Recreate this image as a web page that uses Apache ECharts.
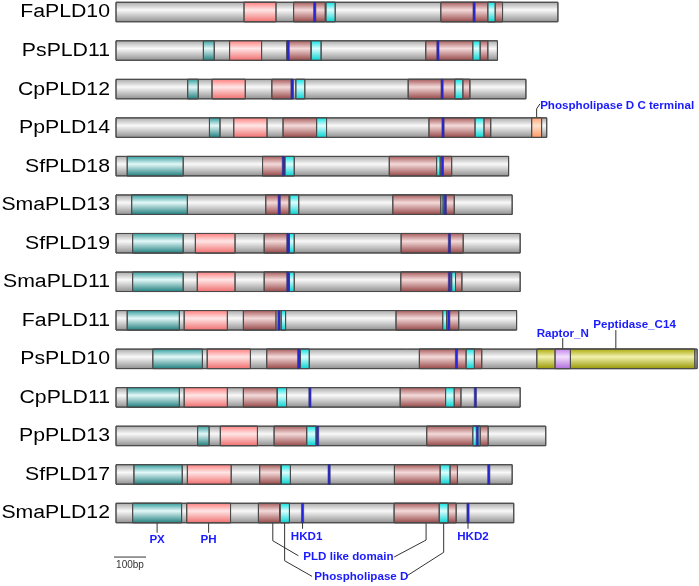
<!DOCTYPE html>
<html>
<head>
<meta charset="utf-8">
<script src="https://cdn.jsdelivr.net/npm/echarts@6/dist/echarts.min.js"></script>
<style>
  html, body {margin:0;padding:0;background:#ffffff;}
  #main {width:699px;height:586px;}
</style>
</head>
<body>
<div id="main"></div>
<script>
    // protein names, top to bottom
    var names = ['FaPLD10','PsPLD11','CpPLD12','PpPLD14','SfPLD18','SmaPLD13','SfPLD19',
                 'SmaPLD11','FaPLD11','PsPLD10','CpPLD11','PpPLD13','SfPLD17','SmaPLD12'];
    // protein lengths (aa)
    var lengths = [1381,1192,1281,1346,1227,1238,1263,1263,1252,1816,1263,1343,1238,1243];

    // domains: [row, start, end]
    var pxDomain = [[1,273,307],[2,224,257],[3,292,325],[4,35,210],[5,49,223],[6,52,210],[7,52,210],
                    [8,35,198],[9,115,270],[10,35,198],[11,255,291],[12,56,207],[13,52,205]];
    var phDomain = [[0,400,500],[1,355,455],[2,300,404],[3,368,472],[6,248,372],[7,254,372],
                    [8,213,348],[9,285,420],[10,213,348],[11,326,442],[12,223,360],[13,221,358]];
    var pldLike = [[0,555,654],[0,1015,1208],[1,534,610],[1,968,1162],[2,487,553],[2,913,1106],
                   [3,522,627],[3,978,1171],[4,458,526],[4,854,1049],[5,468,541],[5,865,1057],
                   [6,463,540],[6,891,1085],[7,463,540],[7,890,1081],[8,398,500],[8,875,1071],
                   [9,471,574],[9,948,1143],[10,398,504],[10,888,1078],[11,494,596],[11,971,1163],
                   [12,449,515],[12,870,1067],[13,445,511],[13,869,1063]];
    var pldD = [[0,656,685],[0,1162,1185],[1,610,641],[1,1115,1138],[2,562,590],[2,1059,1084],
                [3,627,658],[3,1122,1150],[4,528,557],[4,1002,1013],[5,543,571],[5,1015,1022],
                [6,542,557],[7,542,557],[7,1049,1061],[8,516,530],[8,1021,1033],[9,576,604],
                [9,1094,1120],[10,504,533],[10,1030,1057],[11,596,625],[11,1115,1138],
                [12,517,545],[12,1013,1044],[13,513,542],[13,1010,1038]];
    // HKD motifs: [row, centre]
    var hkd = [[0,621],[0,1119],[1,538],[1,1006],[2,550],[2,1019],[3,1022],[4,523],[4,1020],
               [5,510],[5,1029],[6,537],[6,1042],[7,537],[7,1042],[8,509],[8,1040],[9,571],[9,1064],
               [10,606],[10,1123],[11,630],[11,1129],[12,666],[12,1165],[13,583],[13,1100]];
    var pldC = [[3,1299,1330]];
    var peptidase = [[9,1315,1809]];
    var raptor = [[9,1372,1420]];

    var chart = echarts.init(document.getElementById('main'));

    function grad(a, b, c) {
        return new echarts.graphic.LinearGradient(0, 0, 0, 1, [
            {offset: 0, color: a}, {offset: 0.4, color: b}, {offset: 1, color: c}
        ]);
    }

    var BAR_H = 19.5;

    function boxSeries(data, fill, z) {
        return {
            type: 'custom',
            z: z,
            silent: true,
            data: data,
            encode: {x: [1, 2], y: 0},
            renderItem: function (params, api) {
                var r = api.value(0);
                var p0 = api.coord([api.value(1), r]);
                var p1 = api.coord([api.value(2), r]);
                return {
                    type: 'rect',
                    shape: {x: p0[0], y: p0[1] - BAR_H / 2, width: p1[0] - p0[0], height: BAR_H},
                    style: {fill: fill, stroke: '#4a4a4a', lineWidth: 1}
                };
            }
        };
    }

    var bars = lengths.map(function (v, i) { return [i, 0, v]; });

    var hkdSeries = {
        type: 'custom',
        z: 9,
        silent: true,
        data: hkd,
        encode: {x: 1, y: 0},
        renderItem: function (params, api) {
            var p = api.coord([api.value(1), api.value(0)]);
            return {
                type: 'rect',
                shape: {x: p[0] - 1.1, y: p[1] - BAR_H / 2, width: 2.2, height: BAR_H},
                style: {fill: '#2626e0', stroke: '#333366', lineWidth: 0.6}
            };
        }
    };

    var option = {
        animation: false,
        backgroundColor: '#ffffff',
        grid: {left: 116, width: 582.4, top: 12, bottom: 73},
        xAxis: {type: 'value', min: 0, max: 1820, show: false},
        yAxis: {type: 'value', min: 0, max: 13, interval: 1, inverse: true, show: false},
        series: [
            boxSeries(bars, grad('#a6a6a6', '#f9f9f9', '#8e8e8e'), 2),
            boxSeries(pxDomain, grad('#2a9898', '#e4f8f8', '#1b7b7b'), 3),
            boxSeries(phDomain, grad('#ff7a7a', '#ffe6e6', '#f06a6a'), 4),
            boxSeries(pldLike, grad('#a45656', '#f4dada', '#944444'), 5),
            boxSeries(pldD, grad('#00dede', '#dcffff', '#00d0d0'), 6),
            boxSeries(pldC, grad('#ff9d6a', '#ffe2cc', '#ff9660'), 7),
            boxSeries(peptidase, grad('#a6a600', '#f2f2b0', '#959500'), 7),
            boxSeries(raptor, grad('#c07ee8', '#f4e0ff', '#ae6ad8'), 8),
            hkdSeries
        ]
    };
    chart.setOption(option);

    function px(aa, row) { return chart.convertToPixel({gridIndex: 0}, [aa, row]); }

    var BLUE = '#1a1aff';
    var LINE = '#333333';
    var g = [];

    // row names
    names.forEach(function (n, i) {
        g.push({type: 'text', x: 110, y: px(0, i)[1] + 0.5, scaleX: 1.18,
            style: {text: n, align: 'right', verticalAlign: 'middle', fill: '#000',
                font: '18px "Liberation Sans", Arial, sans-serif'}});
    });

    function label(text, x, y, align) {
        g.push({type: 'text', x: x, y: y,
            style: {text: text, align: align || 'center', verticalAlign: 'middle', fill: BLUE,
                font: 'bold 11.6px "Liberation Sans", Arial, sans-serif'}});
    }
    function poly(points) {
        g.push({type: 'polyline', shape: {points: points}, style: {stroke: LINE, lineWidth: 1, fill: null}});
    }

    // callouts on the last row
    var yb = px(0, 13)[1] + BAR_H / 2;
    var xPX = px(128.5, 13)[0], xPH = px(289.5, 13)[0];
    poly([[xPX, yb], [xPX, yb + 10]]); label('PX', xPX, yb + 17);
    poly([[xPH, yb], [xPH, yb + 10]]); label('PH', xPH, yb + 17);
    var xH1 = px(583, 13)[0], xH2 = px(1100, 13)[0];
    poly([[xH1, yb], [xH1, yb + 6]]); label('HKD1', xH1 + 4, yb + 14);
    poly([[xH2, yb], [xH2, yb + 6]]); label('HKD2', xH2 + 5, yb + 14);
    var a1 = px(490, 13)[0], a2 = px(969, 13)[0];
    poly([[a1, yb], [a1, yb + 18], [a1 + 25.6, yb + 33]]);
    poly([[a2, yb], [a2, yb + 17.3], [a2 - 32, yb + 34.3]]);
    label('PLD like domain', a1 + 30.5, yb + 34.3, 'left');
    var c1 = px(527, 13)[0], c2 = px(1024, 13)[0];
    poly([[c1, yb], [c1, yb + 38], [c1 + 27.4, yb + 53.6]]);
    poly([[c2, yb], [c2, yb + 29.6], [c2 - 37.6, yb + 53.6]]);
    label('Phospholipase D', c1 + 29.7, yb + 54.3, 'left');

    // scale bar
    var s0 = px(0, 13)[0] - 2, s1 = s0 + (px(100, 13)[0] - px(0, 13)[0]);
    poly([[s0, yb + 34.3], [s1, yb + 34.3]]);
    g.push({type: 'text', x: (s0 + s1) / 2, y: yb + 42,
        style: {text: '100bp', align: 'center', verticalAlign: 'middle', fill: '#333',
            font: '10px "Liberation Sans", Arial, sans-serif'}});

    // Phospholipase D C terminal
    var o = px(1314.5, 3), oTop = o[1] - BAR_H / 2;
    poly([[o[0], oTop], [o[0], oTop - 9], [o[0] + 3.3, oTop - 14]]);
    label('Phospholipase D C terminal', o[0] + 3.5, oTop - 12, 'left');

    // Raptor_N and Peptidase_C14
    var rp = px(1396, 9), rTop = rp[1] - BAR_H / 2;
    poly([[rp[0], rTop], [rp[0], rTop - 11]]);
    label('Raptor_N', rp[0], rTop - 15);
    var pp = px(1562, 9);
    poly([[pp[0], rTop], [pp[0], rTop - 19]]);
    label('Peptidase_C14', pp[0] - 22.5, rTop - 24, 'left');

    chart.setOption({graphic: {elements: g}});
</script>
</body>
</html>
